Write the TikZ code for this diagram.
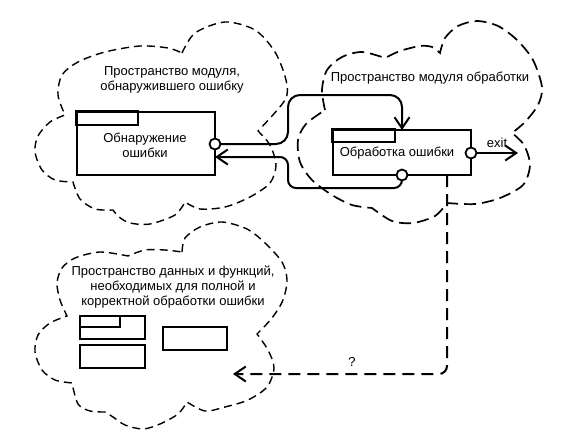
\documentclass[tikz,border=0pt]{standalone}
\usepackage{fontspec}
\setmainfont{Liberation Sans}
\usetikzlibrary{arrows.meta}
\tikzset{
  cloudA/.style={dash pattern=on 8pt off 5pt, line width=1.4pt},
  cloudB/.style={dash pattern=on 12pt off 6pt, line width=1.7pt},
  conn/.style={line width=2pt},
  barb/.style={-{Straight Barb[length=11pt,width=15pt,line width=2pt]}},
  boxnode/.style={draw, line width=1.7pt, inner sep=0pt},
  port/.style={circle, draw, line width=1.8pt, fill=white, minimum size=11pt, inner sep=0pt},
  lbl/.style={font=\fontsize{13}{15}\selectfont, align=center, inner sep=0pt},
  small/.style={draw, line width=1.4pt}
}
\begin{document}
\begin{tikzpicture}[x=1pt,y=-1pt]
\useasboundingbox (0,0) rectangle (574,439);
% cloud 1
\draw[cloudA] plot[smooth] coordinates {(182,53) (195,33) (225,22) (255,30) (275,52) (286,80) (285,100) (258,131)}
 -- plot[smooth] coordinates {(258,131) (270,145) (276,165) (270,183) (250,197) (225,207) (200,209) (185,202)}
 -- plot[smooth] coordinates {(185,202) (175,215) (150,224) (130,223) (119,217) (113,210)}
 -- plot[smooth] coordinates {(113,210) (95,209) (80,199) (73,182)}
 -- plot[smooth] coordinates {(73,182) (55,180) (42,170) (35,152) (38,136) (50,122) (65,115)}
 -- plot[smooth] coordinates {(65,115) (58,95) (62,75) (78,62) (105,52) (140,46) (168,48) (182,53)};
% cloud 2
\draw[cloudB] plot[smooth] coordinates {(325,110) (322,90) (327,70) (342,57) (362,52) (385,58)}
 -- plot[smooth] coordinates {(385,58) (400,51) (420,46) (432,47) (440,53)}
 -- plot[smooth] coordinates {(440,53) (445,38) (458,26) (477,21) (498,26) (517,40) (533,60) (542,87) (538,105) (525,122) (512,133)}
 -- plot[smooth] coordinates {(512,133) (524,145) (530,165) (523,185) (500,198) (475,204) (447,203)}
 -- plot[smooth] coordinates {(447,203) (435,216) (413,223) (392,221) (372,208)}
 -- plot[smooth] coordinates {(372,208) (352,205) (332,195) (312,180) (300,162) (298,140) (306,124) (325,110)};
% cloud 3
\draw[cloudA] plot[smooth] coordinates {(182,252) (185,238) (200,227) (222,222) (247,229) (265,243) (282,262) (287,280) (283,300) (272,318) (257,334)}
 -- plot[smooth] coordinates {(257,334) (268,350) (274,368) (267,387) (248,400) (225,407) (205,411) (187,402)}
 -- plot[smooth] coordinates {(187,402) (178,414) (160,424) (143,429) (125,425) (113,417) (105,412)}
 -- plot[smooth] coordinates {(105,412) (90,411) (78,404) (72,383)}
 -- plot[smooth] coordinates {(72,383) (55,380) (42,370) (35,352) (38,335) (50,323) (67,316)}
 -- plot[smooth] coordinates {(67,316) (60,300) (57,283) (62,268) (75,258) (100,252) (128,256)}
 -- plot[smooth] coordinates {(128,256) (145,250) (165,250) (182,252)};
% cloud texts
\node[lbl] (t1) at (172,80) {Пространство модуля,\\обнаружившего ошибку};
\node[lbl] (t2) at (430,78) {Пространство модуля обработки};
\node[lbl] (t3) at (173,287) {Пространство данных и функций,\\необходимых для полной и\\корректной обработки ошибки};
% box 1
\node[boxnode, minimum width=138pt, minimum height=63pt] (det) at (146,143.5) {};
\draw[line width=1.7pt] (det.north west) rectangle ++(62,14);
\node[lbl] (dettext) at (145,145) {Обнаружение\\ошибки};
% box 2
\node[boxnode, minimum width=138pt, minimum height=45pt] (proc) at (402,152.5) {};
\draw[line width=1.7pt] (proc.north west) rectangle ++(63,13);
\node[lbl] (proctext) at (397,153) {Обработка ошибки};
% small boxes in cloud 3
\draw[small] (80,316) rectangle (145,339);
\draw[small] (80,316) rectangle (120,327);
\draw[small] (80,345) rectangle (145,368);
\draw[small] (163,327) rectangle (227,350);
% coordinates
\coordinate (in2) at (402,130);
\coordinate (in1) at (215,157);
\coordinate (exitpt) at (518,153);
\coordinate (d0) at (447,175);
\coordinate (d1) at (233,374);
% connectors
\draw[conn, barb, rounded corners=12pt] (215,144) -- (288,144) -- (288,95) -- (402,95) -- (in2);
\draw[conn, barb, rounded corners=8pt] (402,180) -- (402,188) -- (288,188) -- (288,157) -- (in1);
\draw[conn, barb] (471,153) -- (exitpt);
\draw[barb, line width=2pt, dash pattern=on 12pt off 7pt, rounded corners=8pt] (d0) -- (447,374) -- (d1);
% ports
\node[port] (p1) at (215,144) {};
\node[port] (p2) at (471,153) {};
\node[port] (p3) at (402,175) {};
\node[lbl] (exitlbl) at (497,143) {exit};
\node[lbl] (q) at (352,362) {?};
\end{tikzpicture}
\end{document}
